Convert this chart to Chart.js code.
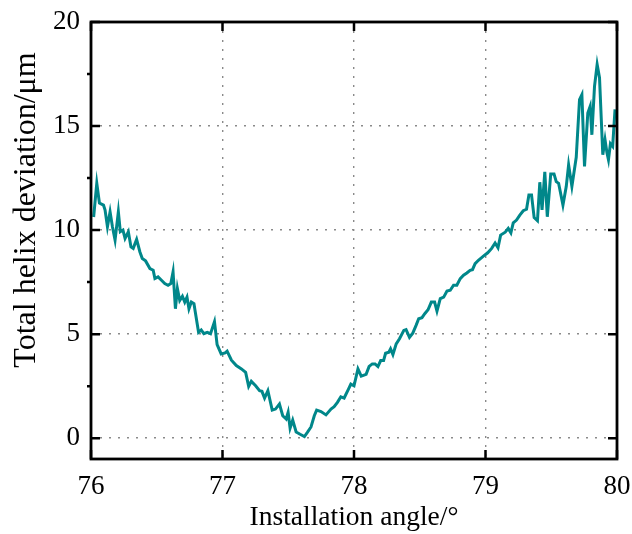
<!DOCTYPE html>
<html>
<head>
<meta charset="utf-8">
<script src="https://cdn.jsdelivr.net/npm/chart.js@4"></script>
<style>
  html, body { margin: 0; padding: 0; background: #fff; }
  #wrap { width: 632px; height: 534px; }
</style>
</head>
<body>
<div id="wrap"><canvas id="myChart" width="632" height="534"></canvas></div>
<script>
//Data

const angles = [
  76.02, 76.044, 76.064, 76.095, 76.107, 76.125, 76.145, 76.163, 76.183, 76.208,
  76.223, 76.243, 76.259, 76.284, 76.304, 76.321, 76.347, 76.372, 76.39, 76.415,
  76.448, 76.473, 76.486, 76.51, 76.536, 76.561, 76.586, 76.607, 76.624, 76.642,
  76.657, 76.675, 76.695, 76.713, 76.73, 76.745, 76.763, 76.783, 76.793, 76.818,
  76.838, 76.858, 76.884, 76.909, 76.939, 76.959, 76.99, 77.02, 77.035, 77.068,
  77.105, 77.144, 77.176, 77.199, 77.219, 77.252, 77.282, 77.3, 77.32, 77.345,
  77.378, 77.403, 77.433, 77.458, 77.484, 77.499, 77.514, 77.534, 77.56, 77.59,
  77.623, 77.648, 77.673, 77.698, 77.716, 77.749, 77.787, 77.825, 77.849, 77.874,
  77.9, 77.925, 77.958, 77.976, 78.0, 78.03, 78.055, 78.092, 78.115, 78.139,
  78.16, 78.182, 78.203, 78.225, 78.24, 78.265, 78.278, 78.296, 78.321, 78.346,
  78.379, 78.396, 78.422, 78.447, 78.472, 78.492, 78.517, 78.538, 78.563, 78.588,
  78.613, 78.631, 78.656, 78.682, 78.707, 78.732, 78.757, 78.782, 78.808, 78.833,
  78.858, 78.883, 78.901, 78.921, 78.946, 78.984, 79.017, 79.047, 79.073, 79.095,
  79.115, 79.15, 79.173, 79.193, 79.211, 79.236, 79.261, 79.287, 79.312, 79.33,
  79.35, 79.37, 79.395, 79.413, 79.43, 79.451, 79.47, 79.496, 79.521, 79.538,
  79.556, 79.589, 79.614, 79.632, 79.657, 79.69, 79.715, 79.733, 79.753, 79.778,
  79.796, 79.809, 79.829, 79.849, 79.867, 79.892, 79.909, 79.924, 79.935, 79.95,
  79.967, 79.985
];

const deviation = [
  10.63, 12.25, 11.3, 11.2, 10.96, 10.16, 10.88, 10.16, 9.52, 10.88,
  9.92, 10.0, 9.6, 9.92, 9.19, 9.12, 9.55, 8.95, 8.63, 8.52,
  8.15, 8.07, 7.67, 7.75, 7.59, 7.43, 7.35, 7.43, 7.99, 6.22,
  7.19, 6.62, 6.82, 6.54, 6.78, 6.22, 6.54, 6.46, 6.06, 5.09,
  5.2, 5.02, 5.09, 5.02, 5.6, 4.5, 4.05, 4.1, 4.18, 3.75,
  3.49, 3.33, 3.16, 2.49, 2.73, 2.52, 2.28, 2.25, 1.93, 2.28,
  1.35, 1.4, 1.64, 1.08, 0.92, 1.24, 0.48, 0.87, 0.3, 0.19,
  0.08, 0.3, 0.54, 1.08, 1.35, 1.28, 1.12, 1.4, 1.51, 1.72,
  1.99, 1.93, 2.36, 2.6, 2.52, 3.33, 2.98, 3.07, 3.45, 3.57,
  3.57, 3.44, 3.73, 3.73, 4.08, 4.13, 4.29, 4.02, 4.53, 4.78,
  5.18, 5.22, 4.85, 5.05, 5.42, 5.74, 5.79, 5.98, 6.17, 6.54,
  6.54, 6.11, 6.71, 6.78, 7.07, 7.11, 7.35, 7.35, 7.67, 7.83,
  7.94, 8.07, 8.1, 8.39, 8.55, 8.75, 8.91, 9.12, 9.38, 9.15,
  9.76, 9.9, 10.08, 9.87, 10.35, 10.48, 10.72, 10.93, 11.0, 11.69,
  11.69, 10.6, 10.45, 12.3, 10.97, 12.8, 10.64, 12.7, 12.7, 12.33,
  12.25, 11.2, 12.09, 13.14, 12.1, 13.5, 16.27, 16.51, 13.06, 15.63,
  15.95, 14.58, 16.91, 17.96, 17.32, 13.62, 14.34, 13.7, 13.38, 14.15,
  14.02, 15.8
];

const xTicks = [76, 77, 78, 79, 80];
const yTicks = [0, 5, 10, 15, 20];
const yMinorTicks = [2.5, 7.5, 12.5, 17.5];
const yTitle = 'Total helix deviation/μm';

//Frame, inward ticks and y title

const framePlugin = {
  id: 'frame',
  afterDraw(chart) {
    const ctx = chart.ctx;
    const a = chart.chartArea;
    const xs = chart.scales.x;
    const ys = chart.scales.y;
    const len = 9;
    ctx.save();
    ctx.strokeStyle = '#000';
    ctx.lineWidth = 2.5;
    ctx.lineCap = 'butt';
    ctx.beginPath();
    for (const v of xTicks) {
      const px = xs.getPixelForValue(v);
      ctx.moveTo(px, a.bottom); ctx.lineTo(px, a.bottom - len);
      ctx.moveTo(px, a.top); ctx.lineTo(px, a.top + len);
    }
    for (const v of yTicks) {
      const py = ys.getPixelForValue(v);
      ctx.moveTo(a.left, py); ctx.lineTo(a.left + len, py);
      ctx.moveTo(a.right, py); ctx.lineTo(a.right - len, py);
    }
    for (const v of yMinorTicks) {
      const py = ys.getPixelForValue(v);
      ctx.moveTo(a.left, py); ctx.lineTo(a.left - 4, py);
    }
    ctx.stroke();
    ctx.lineWidth = 2.8;
    ctx.strokeRect(a.left, a.top, a.right - a.left, a.bottom - a.top);

    // y title sits a bit above the middle of the frame
    ctx.translate(35, a.top + 188);
    ctx.rotate(-Math.PI / 2);
    ctx.fillStyle = '#000';
    ctx.font = "32px 'Liberation Serif', 'Times New Roman', serif";
    ctx.textAlign = 'center';
    ctx.textBaseline = 'alphabetic';
    ctx.fillText(yTitle, 0, 0);
    ctx.restore();
  }
};

//Chart

Chart.defaults.font.family = "'Liberation Serif', 'Times New Roman', serif";
Chart.defaults.color = '#000';

const ctx = document.getElementById('myChart').getContext('2d');

const grafico = new Chart(ctx, {
  type: 'line',
  data: {
    datasets: [{
      label: 'Total helix deviation',
      data: angles.map((a, i) => ({ x: a, y: deviation[i] })),
      borderColor: '#00878a',
      borderWidth: 3,
      pointRadius: 0,
      tension: 0,
      fill: false
    }]
  },
  options: {
    responsive: false,
    animation: false,
    devicePixelRatio: 1,
    layout: { padding: { left: 0, right: 15, top: 22, bottom: 0 } },
    plugins: {
      legend: { display: false },
      tooltip: { enabled: false }
    },
    scales: {
      x: {
        type: 'linear',
        min: 76,
        max: 80,
        afterBuildTicks: s => { s.ticks = xTicks.map(v => ({ value: v })); },
        afterFit: s => { s.height = 75; s.paddingLeft = 0; s.paddingRight = 0; },
        ticks: { font: { size: 27 }, padding: 12, maxRotation: 0 },
        grid: { color: '#8a8a8a', lineWidth: 1.4, drawTicks: false },
        border: { display: false, dash: [2, 7] },
        title: {
          display: true,
          text: 'Installation angle/°',
          font: { size: 27.5 },
          padding: { top: 0, bottom: 0 }
        }
      },
      y: {
        type: 'linear',
        min: -1,
        max: 20,
        afterBuildTicks: s => { s.ticks = yTicks.map(v => ({ value: v })); },
        afterFit: s => { s.width = 91; s.paddingTop = 0; s.paddingBottom = 0; },
        ticks: { font: { size: 27 }, padding: 11 },
        grid: { color: '#8a8a8a', lineWidth: 1.4, drawTicks: false },
        border: { display: false, dash: [2, 7] },
        title: { display: false }
      }
    }
  },
  plugins: [framePlugin]
});
</script>
</body>
</html>
